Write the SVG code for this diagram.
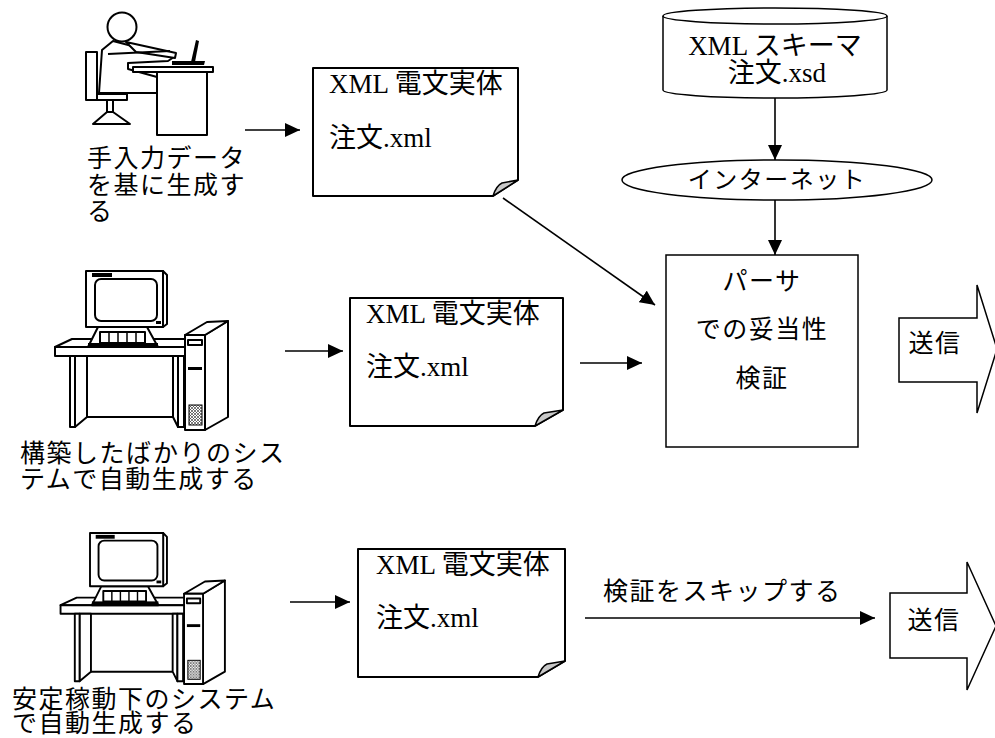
<svg xmlns="http://www.w3.org/2000/svg" width="995" height="738" viewBox="0 0 995 738">
  <style>
    .o { fill: #fff; stroke: #000; stroke-width: 2; stroke-linejoin: round; }
    .thin { fill: #fff; stroke: #000; stroke-width: 1.5; }
    .blk { fill: #000; }
    .fold { fill: #c8c8c8; stroke: #000; stroke-width: 1.5; stroke-linejoin: round; }
    .wire { stroke: #000; stroke-width: 1.6; fill: none; marker-end: url(#ah); }
    .serif { font-family: "Liberation Serif", "Noto Sans CJK JP", serif; font-size: 27px; fill: #000; }
    .sans { font-family: "Noto Sans CJK JP", "Liberation Sans", sans-serif; font-size: 25px; fill: #000; letter-spacing: 1.5px; }
    .mid { text-anchor: middle; }
  </style>
  <defs>
    <marker id="ah" viewBox="0 0 15 14" refX="15" refY="7" markerWidth="15" markerHeight="14" markerUnits="userSpaceOnUse" orient="auto">
      <path d="M0,0 L15,7 L0,14 Z" fill="#000"/>
    </marker>
    <pattern id="grille" width="3" height="3" patternUnits="userSpaceOnUse">
      <rect width="3" height="3" fill="#fff"/>
      <path d="M0,0 L3,3 M3,0 L0,3" stroke="#444" stroke-width="0.7"/>
    </pattern>
    <!-- desk-top computer with tower -->
    <g id="pc-art">
      <polygon class="o" points="55,347 72,339 187,339 187,347"/>
      <rect class="o" x="55" y="347" width="132" height="9"/>
      <polygon class="o" points="75,356 87,356 87,417 75,427"/>
      <rect class="o" x="70" y="356" width="5" height="71"/>
      <polygon class="o" points="173,356 178,356 178,427 173,417"/>
      <rect class="o" x="178" y="356" width="6" height="71"/>
      <line x1="87" y1="417" x2="173" y2="417" stroke="#000" stroke-width="2"/>
      <polygon class="o" points="98,327 147,327 158,347 88,347"/>
      <rect class="o" x="100" y="332" width="45" height="11"/>
      <path d="M109,332 V343 M118,332 V343 M127,332 V343 M136,332 V343" stroke="#000" stroke-width="1.5"/>
      <rect class="blk" x="88" y="343" width="70" height="4"/>
      <polygon class="o" points="163,271 167,275 167,324 163,327"/>
      <rect class="o" x="86" y="271" width="77" height="56" stroke-width="2.5"/>
      <rect class="o" x="95" y="279" width="62" height="42" rx="6" stroke-width="2.5"/>
      <rect class="blk" x="92" y="273" width="20" height="4"/>
      <rect class="blk" x="156" y="321" width="5" height="3"/>
      <polygon class="o" points="205,335 228,321 228,417 205,430"/>
      <polygon class="o" points="185,335 207,322 228,321 205,335"/>
      <rect class="o" x="185" y="335" width="20" height="95" stroke-width="2.5"/>
      <rect class="o" x="188" y="340" width="14" height="5" stroke-width="1.2"/>
      <rect class="blk" x="188" y="367" width="14" height="3"/>
      <rect x="189" y="405" width="13" height="20" fill="url(#grille)" stroke="#000" stroke-width="1"/>
    </g>
  </defs>

  <rect width="995" height="738" fill="#fff"/>

  <!-- person typing at a desk -->
  <g id="operator">
    <rect class="o" x="86" y="52" width="11" height="48" stroke-width="2.5"/>
    <rect class="o" x="97" y="94" width="30" height="6"/>
    <rect class="o" x="107" y="100" width="6" height="12"/>
    <polygon class="o" points="107,112 113,112 130,124 93,124"/>
    <polygon class="o" points="113,41 102,50 99,93 157,93 157,77 128,69 128,63 168,61 174,57 132,46"/>
    <polygon class="o" points="126,42 176,53 175,58 136,52"/>
    <line x1="108" y1="54" x2="170" y2="51" stroke="#000" stroke-width="2"/>
    <circle class="o" cx="122" cy="27" r="14.5"/>
    <rect class="o" x="133" y="67" width="80" height="5" stroke-width="2.5"/>
    <rect class="o" x="157" y="72" width="50" height="63" stroke-width="3"/>
    <polygon class="blk" points="191,62 196,40 199,41 195,62"/>
    <polygon class="blk" points="172,61 205,61 204,65 172,65"/>
    <text class="sans"><tspan x="87" y="167">手入力データ</tspan><tspan x="87" y="194">を基に生成す</tspan><tspan x="87" y="220">る</tspan></text>
  </g>

  <!-- newly built system -->
  <g id="system-new">
    <use href="#pc-art"/>
    <text class="sans"><tspan x="20" y="462">構築したばかりのシス</tspan><tspan x="20" y="488">テムで自動生成する</tspan></text>
  </g>

  <!-- stable production system -->
  <g id="system-stable">
    <use href="#pc-art" transform="translate(90,533) scale(0.95) translate(-86,-271)"/>
    <text class="sans"><tspan x="12" y="708">安定稼動下のシステム</tspan><tspan x="12" y="732">で自動生成する</tspan></text>
  </g>

  <!-- XML message documents -->
  <g id="doc-1">
    <path class="o" d="M313,68 H518 V180 L493,196 H313 Z"/>
    <path class="fold" d="M493,196 Q496,186 502,183 L518,180 Z"/>
    <text class="serif" x="329" y="93">XML 電文実体</text>
    <text class="serif" x="329" y="147">注文.xml</text>
  </g>
  <g id="doc-2">
    <path class="o" d="M350,298 H563 V410 L535,426 H350 Z"/>
    <path class="fold" d="M535,426 Q538,416 544,413 L563,410 Z"/>
    <text class="serif" x="366" y="323">XML 電文実体</text>
    <text class="serif" x="366" y="376">注文.xml</text>
  </g>
  <g id="doc-3">
    <path class="o" d="M358,549 H565 V661 L538,677 H358 Z"/>
    <path class="fold" d="M538,677 Q541,667 547,664 L565,661 Z"/>
    <text class="serif" x="376" y="574">XML 電文実体</text>
    <text class="serif" x="376" y="627">注文.xml</text>
  </g>

  <!-- schema store -->
  <g id="schema">
    <path class="thin" d="M663,16 A112,8 0 0 1 887,16 L887,90 A112,8 0 0 1 663,90 Z"/>
    <path d="M663,16 A112,8 0 0 0 887,16" fill="none" stroke="#000" stroke-width="1.5"/>
    <text class="serif mid" x="775" y="55">XML スキーマ</text>
    <text class="serif mid" x="777" y="82">注文.xsd</text>
  </g>

  <g id="internet">
    <ellipse class="thin" cx="777" cy="180" rx="155" ry="20"/>
    <text class="sans mid" x="777" y="188" style="font-size:24px">インターネット</text>
  </g>

  <g id="parser">
    <rect class="thin" x="666" y="255" width="192" height="192"/>
    <text class="sans mid" x="762" y="290">パーサ</text>
    <text class="sans mid" x="762" y="338">での妥当性</text>
    <text class="sans mid" x="762" y="387">検証</text>
  </g>

  <g id="send-1">
    <polygon class="thin" points="899,318 977,318 977,285 997,349 977,413 977,382 899,382"/>
    <text class="sans mid" x="935" y="352">送信</text>
  </g>
  <g id="send-2">
    <polygon class="thin" points="890,593 967,593 967,562 996,626 967,690 967,658 890,658"/>
    <text class="sans mid" x="934" y="629">送信</text>
  </g>

  <!-- connectors -->
  <g id="connectors">
    <line class="wire" x1="245" y1="130" x2="300" y2="130"/>
    <line class="wire" x1="503" y1="198" x2="655" y2="305"/>
    <line class="wire" x1="775" y1="98" x2="775" y2="160"/>
    <line class="wire" x1="775" y1="200" x2="775" y2="255"/>
    <line class="wire" x1="285" y1="351" x2="343" y2="351"/>
    <line class="wire" x1="580" y1="363" x2="642" y2="363"/>
    <line class="wire" x1="290" y1="602" x2="350" y2="602"/>
    <line class="wire" x1="585" y1="618" x2="875" y2="618"/>
    <text class="sans" x="603" y="600">検証をスキップする</text>
  </g>
</svg>
